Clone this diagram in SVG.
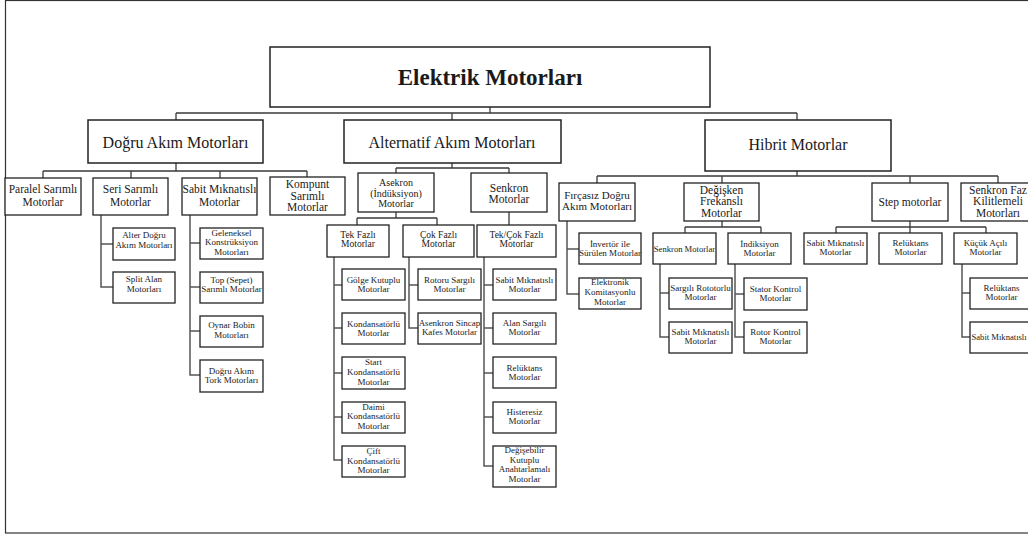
<svg xmlns="http://www.w3.org/2000/svg" width="1028" height="535" viewBox="0 0 1028 535">
<style>
text{font-family:"Liberation Serif","Times New Roman",serif;fill:#1a1a1a;text-anchor:middle}
.b{fill:#fff;stroke:#222;stroke-width:1.3}
.b1{fill:#fff;stroke:#222;stroke-width:1.5}
.t0{font-size:23px;font-weight:bold}
.t1{font-size:16px}
.t2{font-size:11.5px}
.t12{font-size:11.5px}
.t10{font-size:10px}
.t95{font-size:9.5px}
.t9{font-size:9px}
.c{fill:none;stroke:#3a3a3a;stroke-width:1.3}
.c2{fill:none;stroke:#555;stroke-width:1.5}
</style>
<rect x="5.5" y="0.5" width="1030" height="532.5" fill="#fff" stroke="#333" stroke-width="1.2"/>
<g id="connectors">
<path class="c" d="M490,107V113M176,113H797M176,113V120M452,113V120M797,113V120"/>
<path class="c" d="M176,163V171M43,171H307M43,171V178M131,171V178M220,171V178M307,171V177"/>
<path class="c2" d="M101,215V287H113M101,244H113"/>
<path class="c2" d="M190,215V375H200M190,243H200M190,287H200M190,331H200"/>
<path class="c" d="M452,163V168M396,168H509M396,168V173M509,168V173"/>
<path class="c" d="M396,212V218M357,218H437M357,218V225M437,218V225M509,212V225"/>
<path class="c2" d="M334,257V460H342M334,285H342M334,328H342M334,373H342M334,417H342"/>
<path class="c2" d="M409,257V328H418M409,285H418"/>
<path class="c2" d="M484,257V466H493M484,285H493M484,328H493M484,373H493M484,417H493"/>
<path class="c" d="M797,171V176M597,176H998M597,176V183M722,176V183M910,176V183M998,176V183" stroke-width="1.6"/>
<path class="c2" d="M567,221V294H579M567,249H579"/>
<path class="c" d="M722,221V227M685,227H761M685,227V233M761,227V233"/>
<path class="c2" d="M660,264V337H669M660,293H669"/>
<path class="c2" d="M735,264V337H744M735,294H744"/>
<path class="c" d="M910,221V227M836,227H986M836,227V233M910,227V233M986,227V233"/>
<path class="c2" d="M962,264V337H970M962,293H970"/>
</g>
<g id="n-elektrik"><rect class="b1" x="270" y="47" width="440" height="60"/><text class="t0" x="490" y="85">Elektrik Motorları</text></g>
<g id="n-dogru"><rect class="b1" x="88" y="120" width="175" height="43"/><text class="t1" x="175.5" y="148">Doğru Akım Motorları</text></g>
<g id="n-alternatif"><rect class="b1" x="344" y="120" width="217" height="43"/><text class="t1" x="452" y="148">Alternatif Akım Motorları</text></g>
<g id="n-hibrit"><rect class="b1" x="705" y="120" width="186" height="51"/><text class="t1" x="798" y="150">Hibrit Motorlar</text></g>

<g id="n-paralel"><rect class="b" x="5" y="178" width="76" height="37"/><text class="t2" x="43" y="192.5">Paralel Sarımlı</text><text class="t2" x="43" y="206">Motorlar</text></g>
<g id="n-seri"><rect class="b" x="93" y="178" width="75" height="37"/><text class="t2" x="130.5" y="192.5">Seri Sarımlı</text><text class="t2" x="130.5" y="206">Motorlar</text></g>
<g id="n-sabit"><rect class="b" x="182" y="178" width="75" height="37"/><text class="t2" x="219.5" y="192.5">Sabit Mıknatıslı</text><text class="t2" x="219.5" y="206">Motorlar</text></g>
<g id="n-kompunt"><rect class="b" x="270" y="177" width="75" height="38"/><text class="t2" x="307.5" y="188">Kompunt</text><text class="t2" x="307.5" y="199.5">Sarımlı</text><text class="t2" x="307.5" y="211">Motorlar</text></g>

<g id="n-alter"><rect class="b" x="113" y="228" width="62" height="32"/><text class="t9" x="144" y="238">Alter Doğru</text><text class="t9" x="144" y="248">Akım Motorları</text></g>
<g id="n-split"><rect class="b" x="113" y="272" width="62" height="31"/><text class="t9" x="144" y="281.5">Split Alan</text><text class="t9" x="144" y="291.5">Motorları</text></g>
<g id="n-geleneksel"><rect class="b" x="200" y="228" width="63" height="31"/><text class="t9" x="231.5" y="236">Geleneksel</text><text class="t9" x="231.5" y="245">Konstrüksiyon</text><text class="t9" x="231.5" y="255">Motorları</text></g>
<g id="n-top"><rect class="b" x="200" y="272" width="63" height="31"/><text class="t9" x="231.5" y="282.5">Top (Sepet)</text><text class="t9" x="231.5" y="291.5">Sarımlı Motorlar</text></g>
<g id="n-oynar"><rect class="b" x="200" y="316" width="63" height="31"/><text class="t9" x="231.5" y="328">Oynar Bobin</text><text class="t9" x="231.5" y="338">Motorları</text></g>
<g id="n-tork"><rect class="b" x="200" y="360" width="63" height="32"/><text class="t9" x="231.5" y="374">Doğru Akım</text><text class="t9" x="231.5" y="383">Tork Motorları</text></g>

<g id="n-asekron"><rect class="b" x="358" y="173" width="76" height="39"/><text class="t10" x="396" y="186">Asekron</text><text class="t10" x="396" y="196.5">(İndüksiyon)</text><text class="t10" x="396" y="206.5">Motorlar</text></g>
<g id="n-senkron"><rect class="b" x="471" y="173" width="76" height="39"/><text class="t12" x="509" y="191.5">Senkron</text><text class="t12" x="509" y="203">Motorlar</text></g>
<g id="n-tekfazli"><rect class="b" x="327" y="225" width="62" height="32"/><text class="t95" x="358" y="237.5">Tek Fazlı</text><text class="t95" x="358" y="247">Motorlar</text></g>
<g id="n-cokfazli"><rect class="b" x="403" y="225" width="71" height="32"/><text class="t95" x="438.5" y="237.5">Çok Fazlı</text><text class="t95" x="438.5" y="247">Motorlar</text></g>
<g id="n-tekcok"><rect class="b" x="477" y="225" width="79" height="32"/><text class="t95" x="516.5" y="237.5">Tek/Çok Fazlı</text><text class="t95" x="516.5" y="247">Motorlar</text></g>

<g id="n-golge"><rect class="b" x="342" y="269" width="63" height="31"/><text class="t9" x="373.5" y="282.5">Gölge Kutuplu</text><text class="t9" x="373.5" y="291.5">Motorlar</text></g>
<g id="n-kondansatorlu"><rect class="b" x="342" y="313" width="63" height="31"/><text class="t9" x="373.5" y="326.5">Kondansatörlü</text><text class="t9" x="373.5" y="335.5">Motorlar</text></g>
<g id="n-start"><rect class="b" x="342" y="357" width="63" height="32"/><text class="t9" x="373.5" y="365">Start</text><text class="t9" x="373.5" y="375">Kondansatörlü</text><text class="t9" x="373.5" y="385">Motorlar</text></g>
<g id="n-daimi"><rect class="b" x="342" y="402" width="63" height="31"/><text class="t9" x="373.5" y="410">Daimi</text><text class="t9" x="373.5" y="419">Kondansatörlü</text><text class="t9" x="373.5" y="428.5">Motorlar</text></g>
<g id="n-cift"><rect class="b" x="342" y="446" width="63" height="31"/><text class="t9" x="373.5" y="454">Çift</text><text class="t9" x="373.5" y="463.5">Kondansatörlü</text><text class="t9" x="373.5" y="473">Motorlar</text></g>
<g id="n-rotoru"><rect class="b" x="418" y="269" width="63" height="31"/><text class="t9" x="449.5" y="282.5">Rotoru Sargılı</text><text class="t9" x="449.5" y="291.5">Motorlar</text></g>
<g id="n-sincap"><rect class="b" x="418" y="313" width="63" height="31"/><text class="t9" x="449.5" y="326">Asenkron Sincap</text><text class="t9" x="449.5" y="335">Kafes Motorlar</text></g>
<g id="n-sabit-s"><rect class="b" x="493" y="269" width="63" height="31"/><text class="t9" x="524.5" y="282.5">Sabit Mıknatıslı</text><text class="t9" x="524.5" y="291.5">Motorlar</text></g>
<g id="n-alan"><rect class="b" x="493" y="313" width="63" height="31"/><text class="t9" x="524.5" y="326">Alan Sargılı</text><text class="t9" x="524.5" y="335">Motorlar</text></g>
<g id="n-reluktans-s"><rect class="b" x="493" y="357" width="63" height="31"/><text class="t9" x="524.5" y="370.5">Relüktans</text><text class="t9" x="524.5" y="380">Motorlar</text></g>
<g id="n-histeresiz"><rect class="b" x="493" y="402" width="63" height="31"/><text class="t9" x="524.5" y="415">Histeresiz</text><text class="t9" x="524.5" y="424">Motorlar</text></g>
<g id="n-degisebilir"><rect class="b" x="493" y="446" width="63" height="41"/><text class="t9" x="524.5" y="453">Değişebilir</text><text class="t9" x="524.5" y="462.5">Kutuplu</text><text class="t9" x="524.5" y="472">Anahtarlamalı</text><text class="t9" x="524.5" y="481.5">Motorlar</text></g>

<g id="n-fircasiz"><rect class="b" x="559" y="183" width="76" height="38"/><text x="597" y="198.5" font-size="11px">Fırçasız Doğru</text><text x="597" y="210" font-size="11px">Akım Motorları</text></g>
<g id="n-degisken"><rect class="b" x="684" y="183" width="75" height="38"/><text class="t12" x="721.5" y="193.5">Değişken</text><text class="t12" x="721.5" y="205">Frekanslı</text><text class="t12" x="721.5" y="216.5">Motorlar</text></g>
<g id="n-step"><rect class="b" x="872" y="183" width="76" height="38"/><text class="t12" x="910" y="206">Step motorlar</text></g>
<g id="n-senkronfaz"><rect class="b" x="961" y="183" width="76" height="38"/><text class="t12" x="998" y="193.5">Senkron Faz</text><text class="t12" x="998" y="205">Kilitlemeli</text><text class="t12" x="998" y="216.5">Motorları</text></g>

<g id="n-invertor"><rect class="b" x="579" y="233" width="62" height="31"/><text class="t9" x="610" y="246.5">İnvertör ile</text><text class="t9" x="610" y="255.5">Sürülen Motorlar</text></g>
<g id="n-elektronik"><rect class="b" x="579" y="278" width="62" height="31"/><text class="t9" x="610" y="285">Elektronik</text><text class="t9" x="610" y="295">Komitasyonlu</text><text class="t9" x="610" y="305">Motorlar</text></g>
<g id="n-senkronmot"><rect class="b" x="653" y="233" width="63" height="31"/><text x="684.5" y="252" font-size="8.6">Senkron Motorlar</text></g>
<g id="n-indiksiyon"><rect class="b" x="728" y="233" width="63" height="31"/><text class="t9" x="759.5" y="246.5">İndiksiyon</text><text class="t9" x="759.5" y="255.5">Motorlar</text></g>
<g id="n-sargili"><rect class="b" x="669" y="278" width="63" height="31"/><text class="t9" x="700.5" y="291">Sargılı Rototorlu</text><text class="t9" x="700.5" y="300">Motorlar</text></g>
<g id="n-sabit-d"><rect class="b" x="669" y="322" width="63" height="31"/><text class="t9" x="700.5" y="335">Sabit Mıknatıslı</text><text class="t9" x="700.5" y="344">Motorlar</text></g>
<g id="n-stator"><rect class="b" x="744" y="278" width="63" height="32"/><text class="t9" x="775.5" y="291.5">Stator Kontrol</text><text class="t9" x="775.5" y="300.5">Motorlar</text></g>
<g id="n-rotor"><rect class="b" x="744" y="322" width="63" height="31"/><text class="t9" x="775.5" y="335">Rotor Kontrol</text><text class="t9" x="775.5" y="344">Motorlar</text></g>
<g id="n-sabit-step"><rect class="b" x="804" y="233" width="63" height="31"/><text class="t9" x="835.5" y="246">Sabit Mıknatıslı</text><text class="t9" x="835.5" y="255">Motorlar</text></g>
<g id="n-reluktans-step"><rect class="b" x="879" y="233" width="63" height="31"/><text class="t9" x="910.5" y="246">Relüktans</text><text class="t9" x="910.5" y="255">Motorlar</text></g>
<g id="n-kucuk"><rect class="b" x="954" y="233" width="63" height="31"/><text class="t9" x="985.5" y="246">Küçük Açılı</text><text class="t9" x="985.5" y="255">Motorlar</text></g>
<g id="n-reluktans-k"><rect class="b" x="970" y="278" width="63" height="31"/><text class="t9" x="1001.5" y="290.5">Relüktans</text><text class="t9" x="1001.5" y="299.5">Motorlar</text></g>
<g id="n-sabit-k"><rect class="b" x="970" y="322" width="63" height="31"/><text x="971.5" y="340" font-size="8.6" style="text-anchor:start">Sabit Mıknatıslı</text></g>
</svg>
